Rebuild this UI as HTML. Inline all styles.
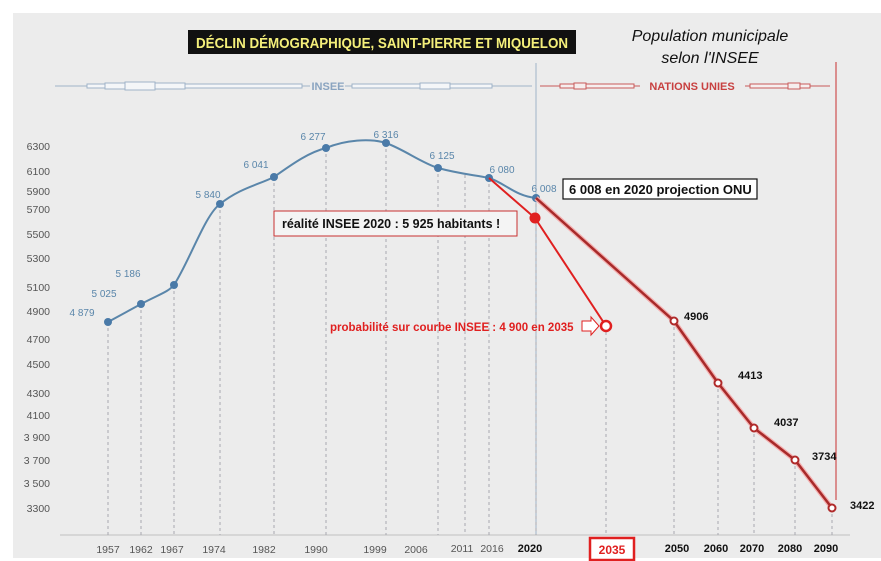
<!DOCTYPE html>
<html><head><meta charset="utf-8"><style>
html,body{margin:0;padding:0;background:#fff;width:881px;height:561px;overflow:hidden}
svg{display:block}
text{font-family:"Liberation Sans",sans-serif}
</style></head><body>
<svg width="881" height="561" viewBox="0 0 881 561">
<rect x="0" y="0" width="881" height="561" fill="#fff"/>
<rect x="13" y="13" width="868" height="545" fill="#ececec"/>
<line x1="60" y1="535" x2="850" y2="535" stroke="#d6d6d6" stroke-width="2"/>

<rect x="188" y="30" width="388" height="24" fill="#111"/>
<text x="382" y="48" font-size="15" font-weight="bold" fill="#f4ef7a" text-anchor="middle" textLength="372" lengthAdjust="spacingAndGlyphs">DÉCLIN DÉMOGRAPHIQUE,  SAINT-PIERRE ET MIQUELON</text>
<text x="710" y="41" font-size="16" font-style="italic" fill="#111" text-anchor="middle">Population municipale</text>
<text x="710" y="63" font-size="16" font-style="italic" fill="#111" text-anchor="middle">selon l'INSEE</text>

<g fill="#f4f6f8" stroke="#9fb3c8">
<line x1="55" y1="86" x2="310" y2="86"/>
<rect x="87" y="84" width="215" height="4"/>
<rect x="105" y="83" width="80" height="6"/>
<rect x="125" y="82" width="30" height="8"/>
<line x1="345" y1="86" x2="532" y2="86"/>
<rect x="352" y="84" width="140" height="4"/>
<rect x="420" y="83" width="30" height="6"/>
</g>
<text x="328" y="90" font-size="11" font-weight="bold" fill="#8aa4c0" text-anchor="middle">INSEE</text>

<g fill="#f6eeee" stroke="#c85a5a">
<line x1="540" y1="86" x2="640" y2="86"/>
<rect x="560" y="84" width="74" height="4"/>
<rect x="574" y="83" width="12" height="6"/>
<line x1="745" y1="86" x2="830" y2="86"/>
<rect x="750" y="84" width="60" height="4"/>
<rect x="788" y="83" width="12" height="6"/>
</g>
<text x="692" y="90" font-size="11" font-weight="bold" fill="#c84040" text-anchor="middle">NATIONS UNIES</text>

<line x1="536" y1="63" x2="536" y2="535" stroke="#9fb3c8" stroke-width="1"/>
<line x1="836" y1="62" x2="836" y2="500" stroke="#c83030" stroke-width="1"/>

<g stroke="#a8a8b0" stroke-dasharray="3,3" stroke-width="1">
<line x1="108" y1="322" x2="108" y2="535"/>
<line x1="141" y1="304" x2="141" y2="535"/>
<line x1="174" y1="285" x2="174" y2="535"/>
<line x1="220" y1="204" x2="220" y2="535"/>
<line x1="274" y1="177" x2="274" y2="535"/>
<line x1="326" y1="148" x2="326" y2="535"/>
<line x1="386" y1="143" x2="386" y2="535"/>
<line x1="438" y1="168" x2="438" y2="535"/>
<line x1="465" y1="175" x2="465" y2="535"/>
<line x1="489" y1="178" x2="489" y2="535"/>
<line x1="536" y1="198" x2="536" y2="535"/>
<line x1="606" y1="326" x2="606" y2="535"/>
<line x1="674" y1="321" x2="674" y2="535"/>
<line x1="718" y1="383" x2="718" y2="535"/>
<line x1="754" y1="428" x2="754" y2="535"/>
<line x1="795" y1="460" x2="795" y2="535"/>
<line x1="832" y1="508" x2="832" y2="535"/>
</g>

<path d="M108,322 L141,304 C160,294 168,292 174,285 C190,260 205,215 220,204 C240,188 258,185 274,177 C295,162 310,152 326,148 C345,140 370,138 386,143 C405,150 420,162 438,168 C460,174 475,175 489,178 C505,183 515,196 536,198" fill="none" stroke="#5a86aa" stroke-width="2"/>
<g fill="#4a7aa8">
<circle cx="108" cy="322" r="4"/><circle cx="141" cy="304" r="4"/><circle cx="174" cy="285" r="4"/><circle cx="220" cy="204" r="4"/><circle cx="274" cy="177" r="4"/><circle cx="326" cy="148" r="4"/><circle cx="386" cy="143" r="4"/><circle cx="438" cy="168" r="4"/><circle cx="489" cy="178" r="4"/><circle cx="536" cy="198" r="4"/>
</g>
<g font-size="10" fill="#5a86aa" text-anchor="middle">
<text x="82" y="316">4 879</text>
<text x="104" y="297">5 025</text>
<text x="128" y="277">5 186</text>
<text x="208" y="198">5 840</text>
<text x="256" y="168">6 041</text>
<text x="313" y="140">6 277</text>
<text x="386" y="138">6 316</text>
<text x="442" y="159">6 125</text>
<text x="502" y="173">6 080</text>
<text x="544" y="192">6 008</text>
</g>

<polyline points="536,198 674,321 718,383 754,428 795,460 832,508" fill="none" stroke="#f4b0b0" stroke-width="5"/>
<polyline points="536,198 674,321 718,383 754,428 795,460 832,508" fill="none" stroke="#a82a2a" stroke-width="2.5"/>
<g fill="#fff" stroke="#b02a2a" stroke-width="2">
<circle cx="674" cy="321" r="3.5"/><circle cx="718" cy="383" r="3.5"/><circle cx="754" cy="428" r="3.5"/><circle cx="795" cy="460" r="3.5"/><circle cx="832" cy="508" r="3.5"/>
</g>
<polyline points="489,178 535,218 606,326" fill="none" stroke="#e02020" stroke-width="2"/>
<circle cx="535" cy="218" r="5.5" fill="#e02020"/>
<circle cx="606" cy="326" r="5" fill="#fff" stroke="#e02020" stroke-width="2.5"/>

<g font-size="11" font-weight="bold" fill="#111">
<text x="684" y="320">4906</text>
<text x="738" y="379">4413</text>
<text x="774" y="426">4037</text>
<text x="812" y="460">3734</text>
<text x="850" y="509">3422</text>
</g>

<rect x="563" y="179" width="194" height="20" fill="#fff" stroke="#111" stroke-width="1.2"/>
<text x="569" y="194" font-size="13" font-weight="bold" fill="#111">6 008 en 2020 projection ONU</text>
<rect x="274" y="211" width="243" height="25" fill="#f4f4f4" stroke="#c83030" stroke-width="1"/>
<text x="282" y="228" font-size="12.5" font-weight="bold" fill="#111">réalité INSEE 2020 : 5 925 habitants !</text>

<text x="330" y="331" font-size="11.5" font-weight="bold" fill="#e02020">probabilité sur courbe INSEE : 4 900 en 2035</text>
<path d="M582,321 L591,321 L591,317 L599,326 L591,335 L591,331 L582,331 Z" fill="#fff" stroke="#e02020" stroke-width="1"/>

<g font-size="10.5" fill="#555" text-anchor="end">
<text x="50" y="150">6300</text>
<text x="50" y="175">6100</text>
<text x="50" y="195">5900</text>
<text x="50" y="213">5700</text>
<text x="50" y="238">5500</text>
<text x="50" y="262">5300</text>
<text x="50" y="291">5100</text>
<text x="50" y="315">4900</text>
<text x="50" y="343">4700</text>
<text x="50" y="368">4500</text>
<text x="50" y="397">4300</text>
<text x="50" y="419">4100</text>
<text x="50" y="441">3 900</text>
<text x="50" y="464">3 700</text>
<text x="50" y="487">3 500</text>
<text x="50" y="512">3300</text>
</g>

<g font-size="10.5" fill="#555" text-anchor="middle">
<text x="108" y="553">1957</text>
<text x="141" y="553">1962</text>
<text x="172" y="553">1967</text>
<text x="214" y="553">1974</text>
<text x="264" y="553">1982</text>
<text x="316" y="553">1990</text>
<text x="375" y="553">1999</text>
<text x="416" y="553">2006</text>
<text x="462" y="552">2011</text>
<text x="492" y="552">2016</text>
</g>
<g font-size="11" font-weight="bold" fill="#111" text-anchor="middle">
<text x="530" y="552">2020</text>
<text x="677" y="552">2050</text>
<text x="716" y="552">2060</text>
<text x="752" y="552">2070</text>
<text x="790" y="552">2080</text>
<text x="826" y="552">2090</text>
</g>
<rect x="590" y="538" width="44" height="22" fill="#fff" stroke="#e02020" stroke-width="2.5"/>
<text x="612" y="554" font-size="12" font-weight="bold" fill="#e02020" text-anchor="middle">2035</text>
</svg>
</body></html>
